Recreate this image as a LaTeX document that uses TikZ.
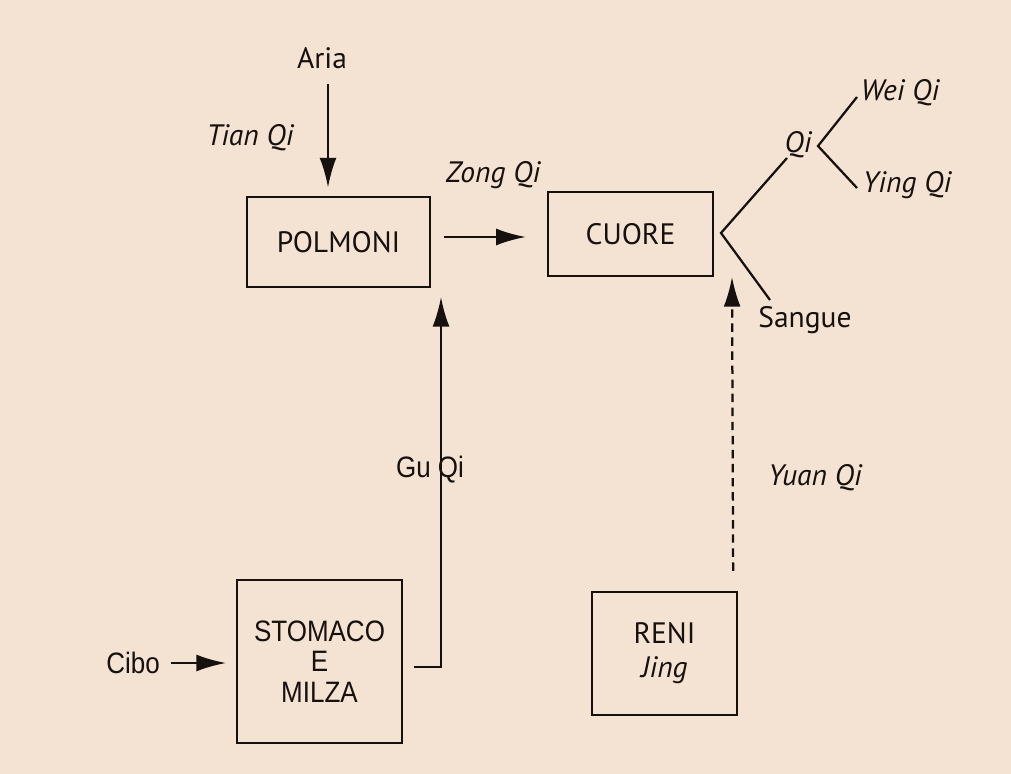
\documentclass[tikz,border=0pt]{standalone}
\usepackage{fontspec}
\setmainfont{PT Sans}
\newfontfamily\helv{Liberation Sans}[FakeStretch=0.88]
\usetikzlibrary{arrows.meta}
\definecolor{paper}{RGB}{244,227,210}
\definecolor{ink}{RGB}{22,16,14}

\begin{document}
\begin{tikzpicture}[x=0.025cm,y=-0.025cm,
      every node/.style={text=ink,font=\fontsize{21}{24}\selectfont},
      organ/.style={draw=ink,line width=1.6pt,align=center,inner sep=0pt},
      qilabel/.style={font=\fontsize{21}{24}\selectfont\itshape},
      arr/.style={draw=ink,line width=1.6pt,-{Latex[length=21pt,width=12pt]}},
      branch/.style={draw=ink,line width=1.6pt}]
    \fill[paper] (0,0) rectangle (1011,774);

    % organi
    \node[organ,minimum width=4.575cm,minimum height=2.25cm] (polmoni) at (338.5,242) {POLMONI};
    \node[organ,minimum width=4.125cm,minimum height=2.1cm] (cuore) at (630.5,234) {CUORE};
    \node[organ,minimum width=4.125cm,minimum height=4.075cm,
          font=\helv\fontsize{21}{21.5}\selectfont] (stomaco) at (319.5,661.5) {STOMACO\\E\\MILZA};
    \node[organ,minimum width=3.625cm,minimum height=3.075cm] (reni) at (664.5,653.5)
        {RENI\\\textit{Jing}};

    % etichette
    \node (aria) at (322,58) {Aria};
    \node[qilabel] (tian) at (250,138) {Tian Qi};
    \node[qilabel] (zong) at (493,175) {Zong Qi};
    \node[font=\helv\fontsize{21}{22}\selectfont] (cibo) at (133,663) {Cibo};
    \node[font=\helv\fontsize{21}{22}\selectfont] (gu) at (430,470) {Gu Qi};
    \node[qilabel] (yuan) at (815,478) {Yuan Qi};
    \node (sangue) at (805,320) {Sangue};
    \node[qilabel] (qi) at (798,145) {Qi};
    \node[qilabel] (wei) at (900,93) {Wei Qi};
    \node[qilabel] (ying) at (907,185) {Ying Qi};

    % punti di diramazione
    \coordinate (fork) at (721,233);
    \coordinate (qiend) at (787,158);
    \coordinate (sangend) at (770,300);
    \coordinate (qifork) at (818,146);
    \coordinate (weiend) at (857,97);
    \coordinate (yingend) at (857,188);
    \coordinate (gutip) at (441,297);
    \coordinate (yuantip) at (732,277);

    % frecce
    \draw[arr] (aria.south) ++(6,10) -- ([xshift=-10.5*0.025cm,yshift=6pt]polmoni.north);
    \draw[arr] ([xshift=9pt]polmoni.east |- 0,237) -- ([xshift=-15pt]cuore.west |- 0,237);
    \draw[arr] (cibo.east) ++(6,0) -- ([xshift=-7pt]stomaco.west |- 0,663);
    \draw[arr] ([xshift=8pt]stomaco.east |- 0,667) -| (gutip);
    \draw[arr,dashed,dash pattern=on 6pt off 4pt] ([shift={(-5,-20)}]reni.north east) -- (yuantip);

    % rami
    \draw[branch] (qiend) -- (fork) -- (sangend);
    \draw[branch] (weiend) -- (qifork) -- (yingend);
\end{tikzpicture}
\end{document}
